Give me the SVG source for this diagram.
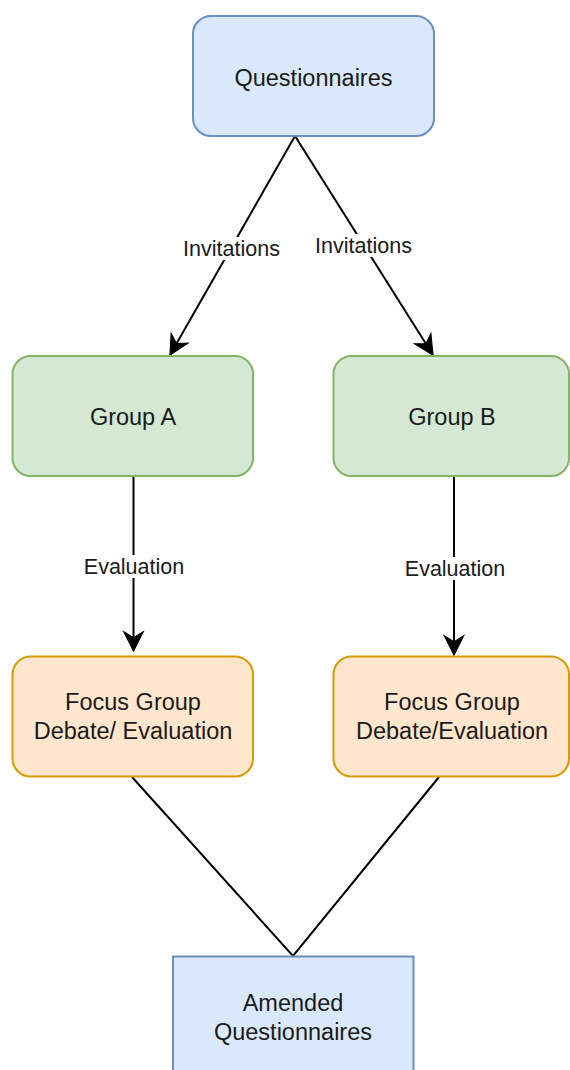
<svg xmlns="http://www.w3.org/2000/svg" width="570" height="1070" viewBox="0 0 570 1070">
<style>
.node text{font-family:"Liberation Sans",Arial,Helvetica,sans-serif;font-size:23.5px;fill:#1a1a1a;text-anchor:middle}
.blue{fill:#dae8fc;stroke:#6c8ebf;stroke-width:2}
.green{fill:#d5e8d4;stroke:#82b366;stroke-width:2}
.orange{fill:#ffe6cc;stroke:#d79b00;stroke-width:2}
.edge{stroke:#000;stroke-width:2;fill:none}
.lbl{font-family:"Liberation Sans",Arial,Helvetica,sans-serif;font-size:21.5px;fill:#1a1a1a;text-anchor:middle}
.lblbg{fill:#fff}
</style>
<defs>
<marker id="arr" markerUnits="userSpaceOnUse" markerWidth="24" markerHeight="24" refX="0" refY="0" viewBox="-18 -10 20 20" orient="auto">
<path d="M0,0 L-16,-8 L-11,0 L-16,8 Z" fill="#000" stroke="#000" stroke-width="1"/>
</marker>
</defs>
<rect width="570" height="1070" fill="#fff"/>
<g id="connectors">
<path class="edge" d="M295,136 L170,355" marker-end="url(#arr)"/>
<path class="edge" d="M295,136 L433,355" marker-end="url(#arr)"/>
<path class="edge" d="M133.5,476 L133.5,651" marker-end="url(#arr)"/>
<path class="edge" d="M454,476 L454,655" marker-end="url(#arr)"/>
<path class="edge" d="M132,777 L293,956 L439,777"/>
<g id="label-inv-a"><rect class="lblbg" x="181" y="237" width="101" height="23"/><text class="lbl" x="231.5" y="256">Invitations</text></g>
<g id="label-inv-b"><rect class="lblbg" x="313" y="234" width="101" height="23"/><text class="lbl" x="363.5" y="253">Invitations</text></g>
<g id="label-eval-a"><rect class="lblbg" x="82" y="555" width="104" height="23"/><text class="lbl" x="134" y="574">Evaluation</text></g>
<g id="label-eval-b"><rect class="lblbg" x="403" y="557" width="104" height="23"/><text class="lbl" x="455" y="576">Evaluation</text></g>
</g>
<g id="questionnaires" class="node">
<rect class="blue" x="193" y="16" width="241" height="120" rx="18" ry="18"/>
<text x="313.5" y="85.5">Questionnaires</text>
</g>
<g id="group-a" class="node">
<rect class="green" x="12.5" y="356" width="240.5" height="120" rx="18" ry="18"/>
<text x="133" y="425">Group A</text>
</g>
<g id="group-b" class="node">
<rect class="green" x="333.5" y="356" width="235.5" height="120" rx="18" ry="18"/>
<text x="452" y="425">Group B</text>
</g>
<g id="focus-a" class="node">
<rect class="orange" x="12.5" y="656.5" width="240.5" height="120" rx="18" ry="18"/>
<text x="133" y="710">Focus Group</text>
<text x="133" y="739">Debate/ Evaluation</text>
</g>
<g id="focus-b" class="node">
<rect class="orange" x="333.5" y="656.5" width="235.5" height="120" rx="18" ry="18"/>
<text x="452" y="710">Focus Group</text>
<text x="452" y="739">Debate/Evaluation</text>
</g>
<g id="amended" class="node">
<rect class="blue" x="173" y="956.5" width="240.5" height="130"/>
<text x="293" y="1011">Amended</text>
<text x="293" y="1040">Questionnaires</text>
</g>
</svg>
